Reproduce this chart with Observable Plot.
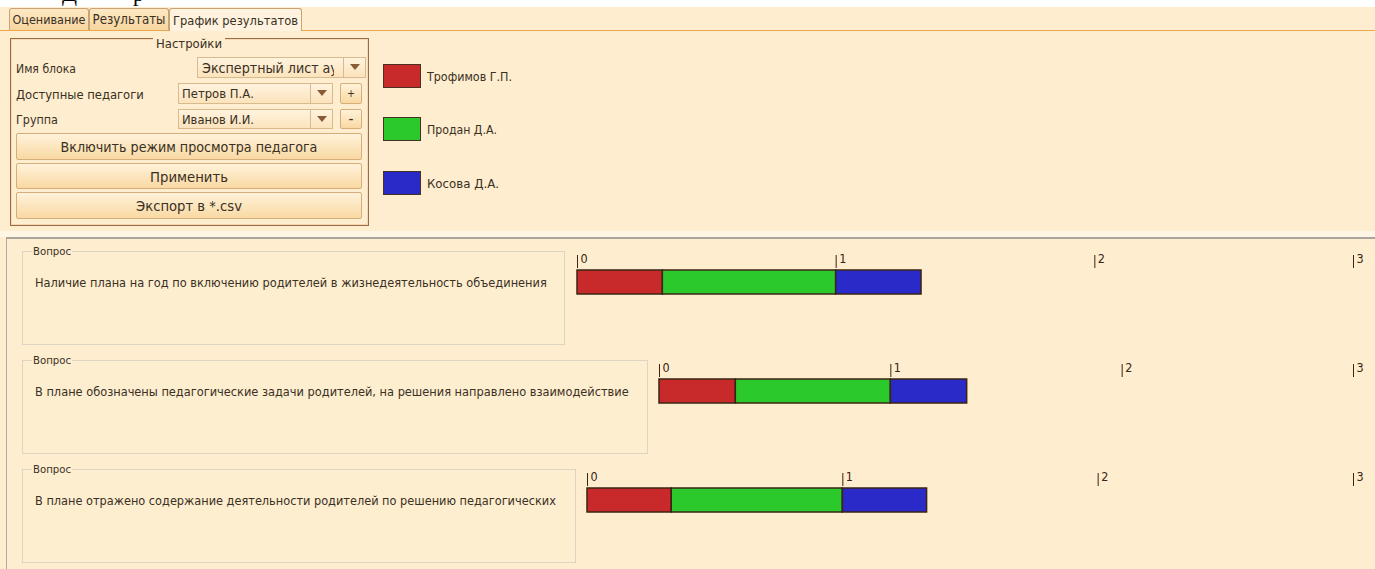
<!DOCTYPE html>
<html><head><meta charset="utf-8">
<script src="https://cdn.jsdelivr.net/npm/d3@7"></script>
<script src="https://cdn.jsdelivr.net/npm/@observablehq/plot@0.6"></script>
<style>
body{margin:0;width:1375px;height:569px;overflow:hidden;background:#fff;font-family:"DejaVu Sans Condensed","DejaVu Sans",sans-serif;color:#3a3024;position:relative;}
.abs{position:absolute;}
.bg{background:#feedce;}
.t{white-space:nowrap;font-size:12px;}
.box{position:absolute;display:flex;align-items:center;justify-content:center;box-sizing:border-box;overflow:hidden;}
.tab{top:8px;height:22px;border:1px solid #c9a374;border-bottom:none;border-radius:3px 3px 0 0;background:linear-gradient(#fde8c4,#f7d69f);}
.tab.sel{background:#fff3df;height:23px;}
.lbl{position:absolute;line-height:14px;white-space:nowrap;}
.combo{position:absolute;border:1px solid #d9b98e;background:linear-gradient(#fff3de,#fbe3bc);box-sizing:border-box;overflow:hidden;white-space:nowrap;}
.arrow{position:absolute;top:0;right:0;width:22px;height:100%;border-left:1px solid #d9b98e;box-sizing:border-box;}
.arrow:after{content:"";position:absolute;left:6px;top:6px;border-left:5px solid transparent;border-right:5px solid transparent;border-top:6px solid #8b5a36;}
.btn{border:1px solid #d6ae7c;border-radius:2px;background:linear-gradient(#fff2da,#f9d9a3);}
.qbox{position:absolute;left:22px;border:1px solid #ddd4c4;background:#feeed0;box-sizing:border-box;}
.qtitle{position:absolute;background:#feeed0;padding:0 1px;line-height:12px;white-space:nowrap;}
.sw{position:absolute;left:383px;width:38px;height:24px;border:1.5px solid #4a3020;box-sizing:border-box;}
</style></head><body>
<div id="root"></div>
<script>
// ---- data ----
const tabs = ["Оценивание", "Результаты", "График результатов"];
const teachers = ["Трофимов Г.П.", "Продан Д.А.", "Косова Д.А."];
const teacherColors = ["#c8292b", "#2cc92c", "#2a2ac8"];
const questions = [
  "Наличие плана на год по включению родителей в жизнедеятельность объединения",
  "В плане обозначены педагогические задачи родителей, на решения направлено взаимодействие",
  "В плане отражено содержание деятельности родителей по решению педагогических"
];
const scoresTrofimov = [0.33, 0.33, 0.33];
const scoresProdan = [0.67, 0.67, 0.67];
const scoresKosova = [0.33, 0.33, 0.33];
const xTicks = [0, 1, 2, 3];
const xDomain = [0, 3];
const settingsLabels = ["Имя блока", "Доступные педагоги", "Группа"];
const comboValues = ["Экспертный лист аудита", "Петров П.А.", "Иванов И.И."];
const buttonLabels = ["Включить режим просмотра педагога", "Применить", "Экспорт в *.csv"];

const root = document.getElementById("root");
function el(cls, style, parent) {
  const d = document.createElement("div");
  d.className = cls;
  Object.assign(d.style, style);
  (parent || root).appendChild(d);
  return d;
}
// text span, fitted to a target width
function txt(parent, text, target, extra) {
  const s = document.createElement("span");
  s.className = "t";
  s.textContent = text;
  if (extra) Object.assign(s.style, extra);
  parent.appendChild(s);
  if (target) {
    const w = s.getBoundingClientRect().width;
    const fs = parseFloat(getComputedStyle(s).fontSize);
    s.style.fontSize = (fs * target / w).toFixed(2) + "px";
  }
  return s;
}

// clipped heading fragment at the very top
const h1 = el("abs", {left: "62px", top: "-19px", font: "22px 'Liberation Serif',serif", color: "#000"}); h1.textContent = "Д";
const h2 = el("abs", {left: "133px", top: "-19px", font: "22px 'Liberation Serif',serif", color: "#000"}); h2.textContent = "р";

// main background
el("abs bg", {left: "0", top: "7px", width: "1375px", height: "562px"});
el("abs", {left: "0", top: "30px", width: "1375px", height: "1px", background: "#e8aa4c"});
const tabPos = [[9, 80, 73], [89, 80, 73], [169, 133, 125]];
tabs.forEach((t, i) => {
  const b = el("box tab" + (i === 2 ? " sel" : ""), {left: tabPos[i][0] + "px", width: tabPos[i][1] + "px"});
  txt(b, t, tabPos[i][2]);
});

// settings group
el("abs", {left: "10px", top: "38px", width: "359px", height: "188px", border: "1px solid #9c6c48", boxShadow: "inset 0 0 0 1px #f3d9b3", boxSizing: "border-box"});
const ttl = el("lbl", {left: "153px", top: "36px", background: "#feedce", padding: "0 3px"});
txt(ttl, "Настройки", 66);
const rowY = [61, 87, 112];
const labelW = [60, 128, 42];
settingsLabels.forEach((t, i) => txt(el("lbl", {left: "16px", top: rowY[i] + "px"}), t, labelW[i]));
const combos = [[197, 57, 169, 31], [178, 83, 155, 24], [178, 109, 155, 24]];
comboValues.forEach((t, i) => {
  const c = el("combo", {left: combos[i][0] + "px", top: combos[i][1] + "px", width: combos[i][2] + "px", height: (i === 2 ? 20 : 21) + "px"});
  const s = el("", {position: "absolute", left: (i === 0 ? 4 : 3) + "px", right: combos[i][3] + "px", top: "0", bottom: "0", display: "flex", alignItems: "center", overflow: "hidden", whiteSpace: "nowrap"}, c);
  if (i === 0) {
    // size the font on the visible part, then show the whole (clipped) value
    const sp = txt(s, t.slice(0, 18), 136);
    sp.textContent = t;
  } else txt(s, t, 72);
  el("arrow", {}, c);
});
txt(el("box btn", {left: "340px", top: "83px", width: "22px", height: "21px"}), "+", 8);
txt(el("box btn", {left: "340px", top: "109px", width: "22px", height: "20px"}), "-", 5);
const btnPos = [[133, 27, 257], [163, 26, 78], [192, 27, 106]];
buttonLabels.forEach((t, i) => {
  const b = el("box btn", {left: "16px", top: btnPos[i][0] + "px", width: "346px", height: btnPos[i][1] + "px"});
  txt(b, t, btnPos[i][2]);
});

// legend
const legY = [64, 117, 171];
const legW = [85, 70, 72];
teachers.forEach((t, i) => {
  el("sw", {top: legY[i] + "px", background: teacherColors[i]});
  txt(el("lbl", {left: "427px", top: (legY[i] + 5) + "px"}), t, legW[i]);
});

// lower panel
el("abs", {left: "0", top: "231px", width: "1375px", height: "6px", background: "#fff5e4"});
el("abs", {left: "6px", top: "237px", width: "1369px", height: "332px", borderTop: "2px solid #a9a49c", borderLeft: "1px solid #b0aaa0", boxSizing: "border-box"});

const boxes = [[251, 543], [360, 626], [469, 554]];
const qW = [512, 594, 521];
const charts = [[570, 250], [652, 359], [580, 468]];
const series = [scoresTrofimov, scoresProdan, scoresKosova];

questions.forEach((q, i) => {
  el("qbox", {top: boxes[i][0] + "px", width: boxes[i][1] + "px", height: "94px"});
  txt(el("qtitle", {left: "32px", top: (boxes[i][0] - 7) + "px"}), "Вопрос", 38);
  txt(el("lbl", {left: "35px", top: (boxes[i][0] + 24) + "px"}), q, qW[i]);

  const rows = teachers.map((t, k) => ({teacher: t, value: series[k][i], q: "q"}));
  const left = charts[i][0];
  const plot = Plot.plot({
    width: 1375 - left,
    height: 44,
    marginLeft: 7,
    marginRight: 22,
    marginTop: 17,
    marginBottom: 0,
    style: {background: "transparent", overflow: "visible", fontFamily: "'DejaVu Sans Condensed','DejaVu Sans',sans-serif", color: "#3b2414"},
    x: {domain: xDomain, axis: null},
    y: {domain: ["q"], axis: null, padding: 0},
    color: {domain: teachers, range: teacherColors},
    marks: [
      Plot.barX(rows, Plot.stackX({x: "value", y: "q", fill: "teacher", order: teachers, stroke: "#3b2414", strokeWidth: 1.5, insetTop: 3})),
      Plot.axisX(xTicks, {anchor: "top", label: null, tickFormat: () => "", tickSize: 13, color: "#3b2414"}),
      Plot.axisX(xTicks, {anchor: "top", label: null, tickFormat: "d", tickSize: 0, tickPadding: 13, lineAnchor: "top", textAnchor: "start", dx: 3, fontSize: 12.5, color: "#3b2414"})
    ]
  });
  plot.style.position = "absolute";
  plot.style.left = left + "px";
  plot.style.top = charts[i][1] + "px";
  root.appendChild(plot);
});
</script>
</body></html>
